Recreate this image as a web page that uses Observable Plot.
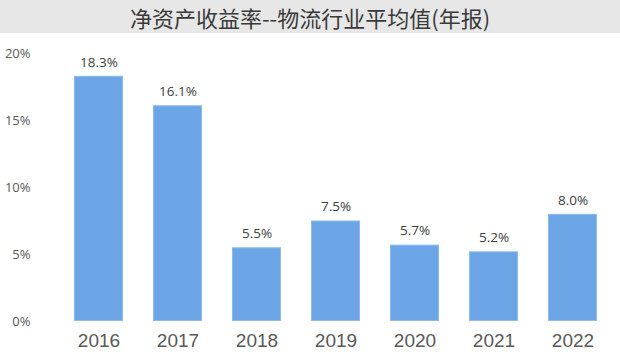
<!DOCTYPE html>
<html>
<head>
<meta charset="utf-8">
<script src="https://cdn.jsdelivr.net/npm/d3@7"></script>
<script src="https://cdn.jsdelivr.net/npm/@observablehq/plot@0.6"></script>
<style>
  html, body { margin: 0; padding: 0; background: #fff; }
  #wrap { width: 620px; }
  #title {
    height: 33px; line-height: 34px; background: #e7e7e7;
    text-align: center; font-family: "Noto Sans CJK SC", sans-serif;
    font-size: 22px; color: #3a3a3a;
  }
  svg { display: block; }
</style>
</head>
<body>
<div id="wrap">
  <div id="title">净资产收益率--物流行业平均值(年报)</div>
  <div id="chart"></div>
</div>
<script>
const years = ["2016", "2017", "2018", "2019", "2020", "2021", "2022"];
const values = [18.3, 16.1, 5.5, 7.5, 5.7, 5.2, 8.0];
const yTicks = [0, 5, 10, 15, 20];

const data = years.map((year, i) => ({ year, value: values[i] }));

const chart = Plot.plot({
  width: 620,
  height: 326,
  marginTop: 20,
  marginBottom: 38,
  marginLeft: 66,
  marginRight: 14.5,
  style: { fontFamily: "'Open Sans', sans-serif", color: "#595959", background: "#fff" },
  x: { domain: years, paddingInner: 0.376, paddingOuter: 0.1, label: null },
  y: { domain: [0, 20], label: null },
  marks: [
    Plot.barY(data, { x: "year", y: "value", fill: "#6ca5e5", stroke: "#8dbbed", strokeWidth: 1, inset: 0.5 }),
    Plot.text(data, {
      x: "year", y: "value", text: d => d.value.toFixed(1) + "%",
      dy: -14, fontSize: 13.5, fill: "#404040", fontFamily: "'Open Sans', sans-serif"
    }),
    Plot.axisY({
      ticks: yTicks, tickFormat: d => d + "%", tickSize: 0, tickPadding: 36,
      fontSize: 13, label: null, fill: "#595959"
    }),
    Plot.axisX({
      tickSize: 0, tickPadding: 12, fontSize: 19, label: null,
      fontFamily: "'Liberation Sans', Arial, sans-serif", fill: "#595959"
    })
  ]
});
document.getElementById("chart").appendChild(chart);
</script>
</body>
</html>
